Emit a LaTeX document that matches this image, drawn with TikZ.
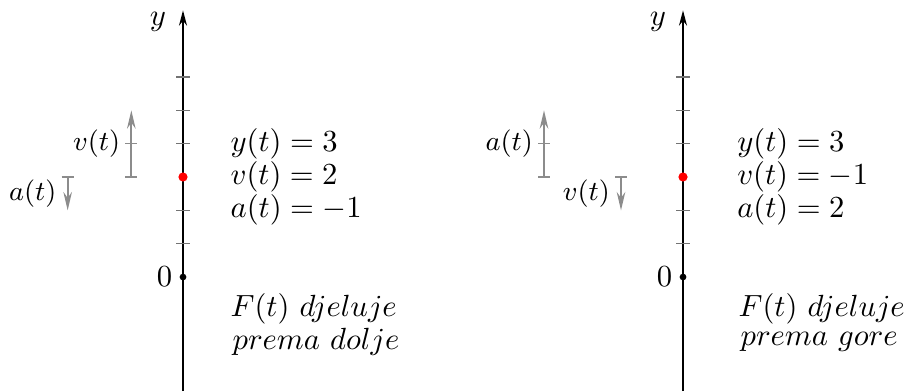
\documentclass[tikz,border=0pt]{standalone}
\usepackage{amsmath}
\usetikzlibrary{arrows.meta}
\begin{document}
\begin{tikzpicture}[x=0.3824cm,y=0.3824cm,>={Stealth[length=5pt,width=2.6pt]}]
\tikzset{
  axisline/.style={black,line width=0.7pt},
  tickmark/.style={black!55,line width=0.4pt},
  vecline/.style={black!45,line width=0.55pt,-{Stealth[length=6pt,width=2.8pt]}},
  vecbar/.style={black!45,line width=0.5pt},
  vectext/.style={font=\small,left,inner sep=1.5pt},
  eqtext/.style={anchor=west,inner sep=0pt},
  posdot/.style={circle,fill=red,inner sep=0pt,minimum size=3pt},
  zerodot/.style={circle,fill=black,inner sep=0pt,minimum size=2.2pt},
}
\useasboundingbox (-5.49,-3.42) rectangle (21.69,8.31);
% left panel: force points down
\coordinate (Lbot) at (0,-3.42);
\coordinate (Ltop) at (0,8);
\draw[axisline,->] (Lbot) -- (Ltop);
\foreach \k in {1,2,4,5,6} \draw[tickmark] (-0.2,\k) -- (0.2,\k);
\node[left=2pt] (Lylab) at (0,7.65) {$y$};
\node[zerodot] (Lzero) at (0,0) {};
\node[left] (Lzerolab) at (Lzero) {$0$};
\node[posdot] (Lpos) at (0,3) {};
% velocity
\coordinate (Lvb) at (-1.55,3);
\coordinate (Lvm) at (-1.55,4);
\coordinate (Lvt) at (-1.55,5);
\draw[vecline] (Lvb) -- (Lvt);
\draw[vecbar] ([xshift=-0.18*0.3824cm]Lvb) -- ([xshift=0.18*0.3824cm]Lvb);
\draw[vecbar] ([xshift=-0.18*0.3824cm]Lvm) coordinate (Lvml) -- ([xshift=0.18*0.3824cm]Lvm);
\node[vectext] (Lvlab) at (Lvml) {$v(t)$};
% acceleration
\coordinate (Lab) at (-3.46,3);
\coordinate (Lat) at (-3.46,2);
\draw[vecline] (Lab) -- (Lat);
\draw[vecbar] ([xshift=-0.18*0.3824cm]Lab) coordinate (Labl) -- ([xshift=0.18*0.3824cm]Lab);
\node[vectext] (Lalab) at (-3.64,2.5) {$a(t)$};
% values
\node[eqtext] (Ly) at (1.41,4) {$y(t)=3$};
\node[eqtext] (Lv) at (1.41,3) {$v(t)=2$};
\node[eqtext] (La) at (1.41,2) {$a(t)=-1$};
\node[eqtext] (Lf1) at (1.41,-0.95) {$F(t)\ djeluje$};
\node[eqtext] (Lf2) at (1.47,-1.95) {$prema\ dolje$};

% right panel: force points up
\begin{scope}[xshift=15*0.3824cm]
\coordinate (Rbot) at (0,-3.42);
\coordinate (Rtop) at (0,8);
\draw[axisline,->] (Rbot) -- (Rtop);
\foreach \k in {1,2,4,5,6} \draw[tickmark] (-0.2,\k) -- (0.2,\k);
\node[left=2pt] (Rylab) at (0,7.65) {$y$};
\node[zerodot] (Rzero) at (0,0) {};
\node[left] (Rzerolab) at (Rzero) {$0$};
\node[posdot] (Rpos) at (0,3) {};
% acceleration
\coordinate (Rab) at (-4.17,3);
\coordinate (Ram) at (-4.17,4);
\coordinate (Rat) at (-4.17,5);
\draw[vecline] (Rab) -- (Rat);
\draw[vecbar] ([xshift=-0.18*0.3824cm]Rab) -- ([xshift=0.18*0.3824cm]Rab);
\draw[vecbar] ([xshift=-0.18*0.3824cm]Ram) coordinate (Raml) -- ([xshift=0.18*0.3824cm]Ram);
\node[vectext] (Ralab) at (Raml) {$a(t)$};
% velocity
\coordinate (Rvb) at (-1.86,3);
\coordinate (Rvt) at (-1.86,2);
\draw[vecline] (Rvb) -- (Rvt);
\draw[vecbar] ([xshift=-0.18*0.3824cm]Rvb) -- ([xshift=0.18*0.3824cm]Rvb);
\node[vectext] (Rvlab) at (-2.04,2.5) {$v(t)$};
% values
\node[eqtext] (Ry) at (1.61,4) {$y(t)=3$};
\node[eqtext] (Rv) at (1.61,3) {$v(t)=-1$};
\node[eqtext] (Ra) at (1.61,2) {$a(t)=2$};
\node[eqtext] (Rf1) at (1.65,-0.95) {$F(t)\ djeluje$};
\node[eqtext] (Rf2) at (1.71,-1.95) {$prema\ gore$};
\end{scope}
\end{tikzpicture}
\end{document}
